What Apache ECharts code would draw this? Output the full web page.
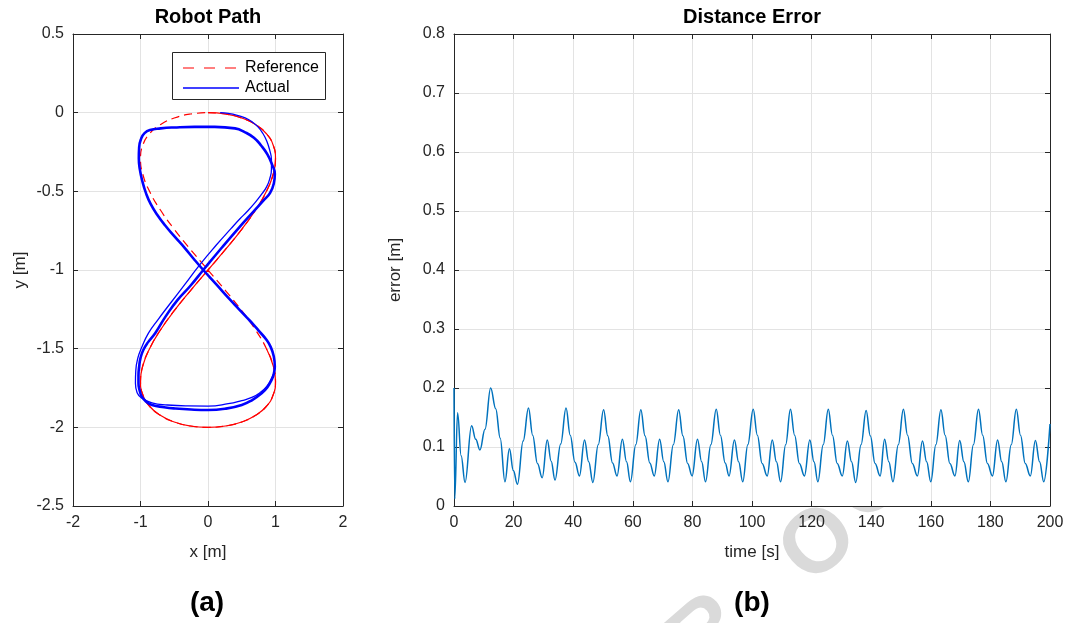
<!DOCTYPE html>
<html>
<head>
<meta charset="utf-8">
<script src="https://cdn.jsdelivr.net/npm/echarts@6/dist/echarts.min.js"></script>
<style>html,body{margin:0;padding:0;background:#fff}#c{width:1069px;height:623px}</style>
</head>
<body>
<div id="c"></div>
<script>
// ---------- tick values ----------
const pathXTicks = [-2, -1, 0, 1, 2];
const pathYTicks = [-2.5, -2, -1.5, -1, -0.5, 0, 0.5];
const timeTicks = [0, 20, 40, 60, 80, 100, 120, 140, 160, 180, 200];
const errorTicks = [0, 0.1, 0.2, 0.3, 0.4, 0.5, 0.6, 0.7, 0.8];
const legendNames = ['Reference', 'Actual'];

// ---------- reference path (x, y) ----------
const referencePath = [[0,0],[0.2588,-0.0086],[0.5,-0.0341],[0.7071,-0.0761],[0.866,-0.134],[0.9659,-0.2066],[1,-0.2929],[0.9659,-0.3912],[0.866,-0.5],[0.7071,-0.6173],[0.5,-0.7412],[0.2588,-0.8695],[0,-1],[-0.2588,-1.1305],[-0.5,-1.2588],[-0.7071,-1.3827],[-0.866,-1.5],[-0.9659,-1.6088],[-1,-1.7071],[-0.9659,-1.7934],[-0.866,-1.866],[-0.7071,-1.9239],[-0.5,-1.9659],[-0.2588,-1.9914],[0,-2],[0.2588,-1.9914],[0.5,-1.9659],[0.7071,-1.9239],[0.866,-1.866],[0.9659,-1.7934],[1,-1.7071],[0.9659,-1.6088],[0.866,-1.5],[0.7071,-1.3827],[0.5,-1.2588],[0.2588,-1.1305],[0,-1],[-0.2588,-0.8695],[-0.5,-0.7412],[-0.7071,-0.6173],[-0.866,-0.5],[-0.9659,-0.3912],[-1,-0.2929],[-0.9659,-0.2066],[-0.866,-0.134],[-0.7071,-0.0761],[-0.5,-0.0341],[-0.2588,-0.0086],[0,0]];
// part of the reference that looks solid in the picture (overlapping laps)
const referenceSolidPart = [[0,0],[0.2588,-0.0086],[0.5,-0.0341],[0.7071,-0.0761],[0.866,-0.134],[0.9659,-0.2066],[1,-0.2929],[0.9659,-0.3912],[0.866,-0.5],[0.7071,-0.6173],[0.5,-0.7412],[0.2588,-0.8695],[0,-1],[-0.2588,-1.1305],[-0.5,-1.2588],[-0.7071,-1.3827],[-0.866,-1.5],[-0.9659,-1.6088],[-1,-1.7071],[-0.9659,-1.7934],[-0.866,-1.866],[-0.7071,-1.9239],[-0.5,-1.9659],[-0.2588,-1.9914],[0,-2],[0.2588,-1.9914],[0.5,-1.9659],[0.7071,-1.9239],[0.866,-1.866],[0.9659,-1.7934],[1,-1.7071],[0.9659,-1.6088],[0.866,-1.5]];

// ---------- actual path: first lap (transient) ----------
const actualFirstLap = [[0.18,0.0],[0.30,-0.005],[0.42,-0.015],[0.55,-0.033],[0.65,-0.057],[0.74,-0.09],[0.81,-0.13],[0.87,-0.18],[0.915,-0.24],[0.94,-0.30],[0.94,-0.36],[0.915,-0.42],[0.87,-0.47],[0.80,-0.515],[0.70,-0.57],[0.58,-0.628],[0.47,-0.676],[0.34,-0.737],[0.12,-0.843],[-0.12,-0.966],[-0.34,-1.09],[-0.56,-1.213],[-0.74,-1.315],[-0.88,-1.40],[-0.98,-1.49],[-1.04,-1.56],[-1.07,-1.64],[-1.075,-1.72],[-1.05,-1.78],[-0.98,-1.815],[-0.83,-1.845],[-0.6,-1.858],[-0.3,-1.864],[0,-1.865],[0.3,-1.85],[0.5,-1.83],[0.65,-1.81],[0.77,-1.78],[0.87,-1.74],[0.94,-1.69],[0.98,-1.65],[0.99,-1.615]];
// ---------- actual path: converged laps ----------
const actualSteady = [[0.99,-1.615],[0.975,-1.55],[0.93,-1.49],[0.86,-1.44],[0.77,-1.395],[0.67,-1.345],[0.57,-1.30],[0.45,-1.245],[0.33,-1.19],[0.12,-1.09],[-0.07,-1.0],[-0.21,-0.93],[-0.34,-0.862],[-0.50,-0.785],[-0.64,-0.714],[-0.75,-0.65],[-0.85,-0.58],[-0.92,-0.51],[-0.97,-0.44],[-1.01,-0.36],[-1.025,-0.29],[-1.02,-0.22],[-0.99,-0.165],[-0.94,-0.13],[-0.86,-0.11],[-0.70,-0.1],[-0.5,-0.094],[-0.2,-0.09],[0.1,-0.09],[0.4,-0.1],[0.55,-0.125],[0.68,-0.16],[0.79,-0.21],[0.88,-0.265],[0.95,-0.33],[0.99,-0.39],[0.975,-0.45],[0.92,-0.51],[0.84,-0.55],[0.67,-0.63],[0.46,-0.73],[0.2,-0.86],[-0.07,-1.0],[-0.26,-1.1],[-0.45,-1.19],[-0.62,-1.29],[-0.78,-1.40],[-0.89,-1.46],[-0.96,-1.51],[-1.0,-1.56],[-1.02,-1.615],[-1.03,-1.67],[-1.03,-1.72],[-1.01,-1.77],[-0.98,-1.805],[-0.92,-1.835],[-0.83,-1.858],[-0.65,-1.872],[-0.49,-1.88],[-0.25,-1.887],[0,-1.89],[0.25,-1.882],[0.5,-1.858],[0.66,-1.825],[0.795,-1.784],[0.88,-1.745],[0.94,-1.70],[0.975,-1.66],[0.99,-1.615]];

// ---------- distance error (time [s], error [m]) ----------
const distanceError = [
[0,0.2],[0.25,0.012],[1.2,0.158],[2.4,0.085],[3.7,0.04],[5.9,0.136],[7.3,0.113],[8.7,0.095],[10.4,0.13],[12.3,0.2],[14.0,0.165],[15.5,0.115],[17.1,0.041],[18.6,0.097],[19.9,0.06],[21.3,0.037],[23.2,0.11],
[25.0,0.166],[26.4,0.12],[28.0,0.072],[29.6,0.048],[31.3,0.112],[32.6,0.076],[33.9,0.044],[35.8,0.105],
[37.6,0.166],[39.0,0.12],[40.6,0.074],[42.1,0.051],[43.8,0.112],[45.2,0.075],[46.6,0.040],[48.4,0.104],
[50.2,0.163],[51.6,0.119],[53.2,0.073],[54.7,0.051],[56.5,0.113],[57.9,0.075],[59.2,0.041],[61.0,0.104],
[62.7,0.163],[64.1,0.119],[65.7,0.073],[67.2,0.051],[69.0,0.113],[70.4,0.075],[71.8,0.041],[73.6,0.104],
[75.4,0.163],[76.8,0.119],[78.4,0.072],[79.9,0.051],[81.7,0.113],[83.1,0.075],[84.4,0.041],[86.2,0.104],
[88.0,0.164],[89.4,0.12],[91.0,0.073],[92.3,0.051],[94.1,0.112],[95.5,0.075],[96.9,0.041],[98.6,0.104],
[100.4,0.164],[101.8,0.12],[103.4,0.072],[105.1,0.051],[106.8,0.112],[108.2,0.075],[109.6,0.041],[111.3,0.104],
[112.9,0.164],[114.3,0.12],[115.9,0.072],[117.6,0.051],[119.4,0.112],[120.8,0.075],[122.1,0.041],[123.9,0.104],
[125.6,0.164],[127.0,0.12],[128.6,0.072],[130.3,0.051],[132.0,0.11],[133.4,0.075],[134.8,0.04],[136.6,0.104],
[138.3,0.162],[139.7,0.119],[141.3,0.072],[143.0,0.051],[144.5,0.113],[145.9,0.075],[147.3,0.041],[149.1,0.104],
[150.8,0.164],[152.2,0.12],[153.8,0.072],[155.5,0.051],[157.2,0.11],[158.6,0.075],[160.0,0.041],[161.7,0.104],
[163.4,0.163],[164.8,0.12],[166.4,0.072],[168.1,0.051],[169.7,0.111],[171.1,0.075],[172.6,0.041],[174.3,0.104],
[176.0,0.164],[177.4,0.12],[179.0,0.072],[180.7,0.051],[182.4,0.112],[183.8,0.075],[185.2,0.041],[187.0,0.104],
[188.7,0.164],[190.1,0.12],[191.7,0.072],[193.4,0.051],[195.1,0.111],[196.5,0.075],[197.9,0.041],[200.0,0.139]
];

// ---------- styling ----------
const FONT = '"Liberation Sans", Arial, Helvetica, sans-serif';
const AX = '#262626';
const GRIDC = '#e3e3e3';
const RED = '#ff0000', BLUE = '#0000ff', ERRC = '#0072BD';

function mainAxis(gridIndex, ticks, position, name, nameGap) {
  return {
    gridIndex, type: 'value', position,
    min: ticks[0], max: ticks[ticks.length - 1], interval: ticks[1] - ticks[0],
    axisLine: { show: true, onZero: false, lineStyle: { color: AX, width: 1 } },
    axisTick: { show: true, inside: true, length: 5, lineStyle: { color: AX } },
    axisLabel: { show: true, color: AX, fontSize: 16, fontFamily: FONT, margin: 9 },
    splitLine: { show: true, lineStyle: { color: GRIDC, width: 1 } },
    name, nameLocation: 'middle', nameGap,
    nameTextStyle: { color: AX, fontSize: 17, fontFamily: FONT }
  };
}
function boxAxis(gridIndex, ticks, position) {
  return {
    gridIndex, type: 'value', position,
    min: ticks[0], max: ticks[ticks.length - 1], interval: ticks[1] - ticks[0],
    axisLine: { show: true, onZero: false, lineStyle: { color: AX, width: 1 } },
    axisTick: { show: true, inside: true, length: 5, lineStyle: { color: AX } },
    axisLabel: { show: false },
    splitLine: { show: false }
  };
}
function txt(x, y, text, size, weight, align, z) {
  return { type: 'text', x, y, z: z == null ? 100 : z, silent: true,
    style: { text, fontSize: size, fontWeight: weight, fontFamily: FONT, fill: '#000', align: align || 'center', verticalAlign: 'middle' } };
}
function wm(x, y, ch) {
  return { type: 'text', x, y, rotation: 41 * Math.PI / 180, z: -100, silent: true,
    style: { text: ch, fontSize: 90, fontWeight: 'bold', fontFamily: FONT, fill: '#dadada', align: 'center', verticalAlign: 'middle' } };
}

const chart = echarts.init(document.getElementById('c'), null, { renderer: 'canvas' });
chart.setOption({
  animation: false,
  backgroundColor: '#fff',
  grid: [
    { left: 73, top: 34, width: 270, height: 472, show: true, backgroundColor: '#fff', borderWidth: 0 },
    { left: 454, top: 34, width: 596, height: 472, show: true, backgroundColor: '#fff', borderWidth: 0 }
  ],
  xAxis: [
    mainAxis(0, pathXTicks, 'bottom', 'x [m]', 38),
    boxAxis(0, pathXTicks, 'top'),
    mainAxis(1, timeTicks, 'bottom', 'time [s]', 38),
    boxAxis(1, timeTicks, 'top')
  ],
  yAxis: [
    mainAxis(0, pathYTicks, 'left', 'y [m]', 44),
    boxAxis(0, pathYTicks, 'right'),
    mainAxis(1, errorTicks, 'left', 'error [m]', 50),
    boxAxis(1, errorTicks, 'right')
  ],
  graphic: [
    // faint watermark behind the axes
    wm(708, 634, 'R'), wm(820, 545, 'O'), wm(872, 484, 'O'),
    // titles and panel labels
    txt(208, 17, 'Robot Path', 20, 'bold'),
    txt(752, 17, 'Distance Error', 20, 'bold'),
    txt(207, 603, '(a)', 28, 'bold'),
    txt(752, 603, '(b)', 28, 'bold'),
    // legend box
    { type: 'rect', z: 100, silent: true, shape: { x: 172.5, y: 52.5, width: 153, height: 47 },
      style: { fill: '#fff', stroke: AX, lineWidth: 1 } },
    { type: 'line', z: 101, silent: true, shape: { x1: 183, y1: 68, x2: 239, y2: 68 },
      style: { stroke: RED, lineWidth: 1.2, lineDash: [11, 10] } },
    { type: 'line', z: 101, silent: true, shape: { x1: 183, y1: 88, x2: 239, y2: 88 },
      style: { stroke: BLUE, lineWidth: 1.3 } },
    txt(245, 68, legendNames[0], 16, 'normal', 'left', 101),
    txt(245, 88, legendNames[1], 16, 'normal', 'left', 101)
  ],
  series: [
    { name: legendNames[0], type: 'line', xAxisIndex: 0, yAxisIndex: 0, data: referencePath,
      smooth: 0.5, symbol: 'none', showSymbol: false,
      lineStyle: { color: RED, width: 1.2, type: [8, 5] }, itemStyle: { color: RED } },
    { name: 'ReferenceSolid', type: 'line', xAxisIndex: 0, yAxisIndex: 0, data: referenceSolidPart,
      smooth: 0.5, symbol: 'none', showSymbol: false,
      lineStyle: { color: RED, width: 1.2 }, itemStyle: { color: RED } },
    { name: legendNames[1], type: 'line', xAxisIndex: 0, yAxisIndex: 0, data: actualFirstLap,
      smooth: 0.5, symbol: 'none', showSymbol: false,
      lineStyle: { color: BLUE, width: 1.3 }, itemStyle: { color: BLUE } },
    { name: legendNames[1], type: 'line', xAxisIndex: 0, yAxisIndex: 0, data: actualSteady,
      smooth: 0.5, symbol: 'none', showSymbol: false,
      lineStyle: { color: BLUE, width: 2.6 }, itemStyle: { color: BLUE } },
    { name: 'Error', type: 'line', xAxisIndex: 2, yAxisIndex: 2, data: distanceError,
      smooth: 0.4, smoothMonotone: 'x', symbol: 'none', showSymbol: false,
      lineStyle: { color: ERRC, width: 1.5 }, itemStyle: { color: ERRC } }
  ]
});
</script>
</body>
</html>
